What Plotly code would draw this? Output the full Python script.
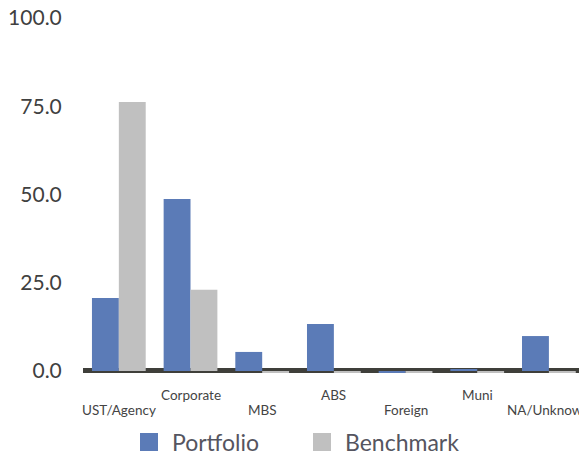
import plotly.graph_objects as go

categories = ["UST/Agency", "Corporate", "MBS", "ABS", "Foreign", "Muni", "NA/Unknown"]
portfolio = [20.7, 48.7, 5.4, 13.3, -0.5, 0.5, 9.9]
benchmark = [76.2, 23.0, -0.5, -0.5, -0.5, -0.5, -0.5]
y_ticks = [0, 25, 50, 75, 100]
y_tick_labels = ["0.0", "25.0", "50.0", "75.0", "100.0"]

BLUE = "#5b7bb7"
GRAY = "#c0c0c0"
FONT = "Lato"

xs = list(range(len(categories)))

fig = go.Figure()
fig.add_bar(x=xs, y=portfolio, name="Portfolio",
            marker=dict(color=BLUE, line=dict(width=0)))
fig.add_bar(x=xs, y=benchmark, name="Benchmark",
            marker=dict(color=GRAY, line=dict(width=0)))

# plot area geometry helpers (pixels -> paper)
L, R, T, B = 83, 579, 18, 374
def px(xp):
    return (xp - L) / (R - L)
def py(yp):
    return (B - yp) / (B - T)

shapes = [
    dict(type="rect", xref="paper", yref="y", x0=0, x1=1, y0=-0.55, y1=0.85,
         fillcolor="#3f3f3a", line=dict(width=0), layer="below"),
    dict(type="rect", xref="paper", yref="paper", x0=px(140), x1=px(158), y0=py(451), y1=py(433),
         fillcolor=BLUE, line=dict(width=0)),
    dict(type="rect", xref="paper", yref="paper", x0=px(313), x1=px(331), y0=py(451), y1=py(433),
         fillcolor=GRAY, line=dict(width=0)),
]
annotations = [
    dict(text="Portfolio", xref="paper", yref="paper", x=px(170), y=py(442), xanchor="left",
         yanchor="middle", showarrow=False, font=dict(family=FONT, size=23, color="#555560")),
    dict(text="Benchmark", xref="paper", yref="paper", x=px(343), y=py(442), xanchor="left",
         yanchor="middle", showarrow=False, font=dict(family=FONT, size=23, color="#555560")),
]
# staggered category labels
for i, c in enumerate(categories):
    annotations.append(dict(text=c, xref="x", yref="paper", x=xs[i],
                            y=py(410) if i % 2 == 0 else py(395),
                            xanchor="center", yanchor="middle", showarrow=False,
                            font=dict(family=FONT, size=13.5, color="#444444")))

fig.update_layout(
    template="none",
    width=579, height=455,
    margin=dict(l=L, r=579 - R, t=T, b=455 - B, pad=0),
    paper_bgcolor="white", plot_bgcolor="white",
    barmode="group", bargap=0.25, bargroupgap=0,
    showlegend=False,
    shapes=shapes, annotations=annotations,
    font=dict(family=FONT),
    xaxis=dict(range=[-0.5, 6.42], automargin=False, showticklabels=False,
               showgrid=False, zeroline=False, showline=False, ticks=""),
    yaxis=dict(range=[-0.85, 100], automargin=False, tickmode="array", tickvals=y_ticks,
               ticktext=y_tick_labels,
               showgrid=False, zeroline=False, showline=False,
               ticks="outside", ticklen=16, tickcolor="rgba(0,0,0,0)",
               tickfont=dict(family=FONT, size=21, color="#404040")),
)

fig.write_html("out.html", config={"displayModeBar": False},
               post_script="document.body.style.margin='0';document.body.style.overflow='hidden';")
